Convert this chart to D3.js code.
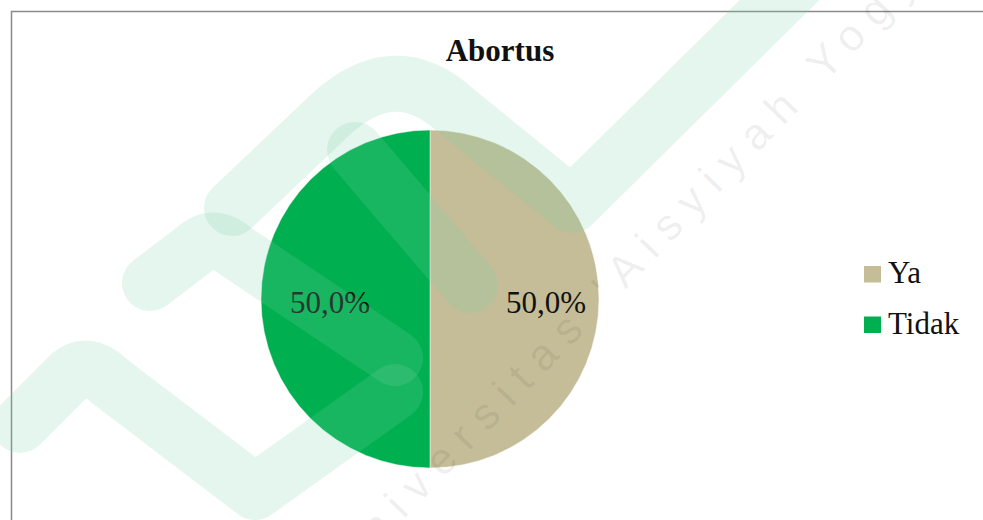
<!DOCTYPE html>
<html>
<head>
<meta charset="utf-8">
<script src="https://cdn.jsdelivr.net/npm/d3@7"></script>
<style>
  html, body { margin: 0; padding: 0; background: #ffffff; }
  svg { display: block; }
</style>
</head>
<body>
<svg id="chart" width="983" height="520"></svg>
<script>
// ---- data ----
const categories = ["Ya", "Tidak"];
const values = [50.0, 50.0];
const colors = ["#C4BD97", "#00B050"];
const title = "Abortus";
const watermark = "Universitas 'Aisyiyah Yogyakarta";

// ---- layout ----
const W = 983, H = 520;
const svg = d3.select("#chart");
const serif = "'Liberation Serif', 'Times New Roman', Times, serif";

// chart frame
svg.append("rect")
  .attr("x", 11.5).attr("y", 11.5)
  .attr("width", W + 20).attr("height", H + 20)
  .attr("fill", "#ffffff")
  .attr("stroke", "#8a8a8a").attr("stroke-width", 1.5);

// title
svg.append("text")
  .attr("x", 500).attr("y", 61)
  .attr("text-anchor", "middle")
  .attr("font-family", serif)
  .attr("font-weight", "bold")
  .attr("font-size", 31)
  .attr("fill", "#111")
  .text(title);

// pie
const cx = 430, cy = 299, R = 169;
const pie = d3.pie().sort(null).value(d => d.value);
const data = categories.map((c, i) => ({ name: c, value: values[i] }));
const arcs = pie(data);
const arc = d3.arc().innerRadius(0).outerRadius(R);
const labelArc = d3.arc().innerRadius(108).outerRadius(108);
const color = d3.scaleOrdinal().domain(categories).range(colors);

const g = svg.append("g").attr("transform", `translate(${cx},${cy})`);
g.selectAll("path.slice")
  .data(arcs)
  .join("path")
  .attr("class", "slice")
  .attr("d", arc)
  .attr("fill", d => color(d.data.name))
  .attr("stroke", "rgba(255,255,255,0.45)")
  .attr("stroke-width", 1);

const fmt = v => d3.format(".1f")(v).replace(".", ",") + "%";
const total = d3.sum(values);
g.selectAll("text.lbl")
  .data(arcs)
  .join("text")
  .attr("class", "lbl")
  .attr("transform", d => `translate(${labelArc.centroid(d)})`)
  .attr("dx", 8)
  .attr("dy", 14)
  .attr("text-anchor", "middle")
  .attr("font-family", serif)
  .attr("font-size", 31)
  .attr("fill", "#111")
  .text(d => fmt(d.data.value / total * 100));

// legend
const leg = svg.append("g").attr("transform", "translate(864,266)");
const items = leg.selectAll("g.item")
  .data(categories)
  .join("g")
  .attr("class", "item")
  .attr("transform", (d, i) => `translate(0,${i * 50.5})`);
items.append("rect")
  .attr("width", 17).attr("height", 16.5)
  .attr("fill", d => color(d));
items.append("text")
  .attr("x", 24).attr("y", 17)
  .attr("font-family", serif)
  .attr("font-size", 31)
  .attr("fill", "#111")
  .text(d => d);

// ---- faint page watermark (logo ribbons + text), drawn over everything ----
const wm = svg.append("g").attr("pointer-events", "none");
const ribbons = [
  "M232,208 L330,115 Q395,55 455,110 L572,205 L820,-40",
  "M150,283 L200,245 Q216,234 234,250 L395,358",
  "M355,150 L470,285",
  "M20,425 L70,375 Q88,360 108,380 L255,492 L395,392"
];
wm.selectAll("path.rib")
  .data(ribbons)
  .join("path")
  .attr("class", "rib")
  .attr("d", d => d)
  .attr("fill", "none")
  .attr("stroke", "rgb(125,208,168)")
  .attr("stroke-opacity", 0.2)
  .attr("stroke-width", 56)
  .attr("stroke-linecap", "round")
  .attr("stroke-linejoin", "round");

wm.append("text")
  .attr("transform", "translate(347,578) rotate(-46)")
  .attr("font-family", "'Liberation Sans', Arial, sans-serif")
  .attr("font-size", 44)
  .attr("letter-spacing", 12.5)
  .attr("fill", "#000")
  .attr("fill-opacity", 0.07)
  .text(watermark);
</script>
</body>
</html>
